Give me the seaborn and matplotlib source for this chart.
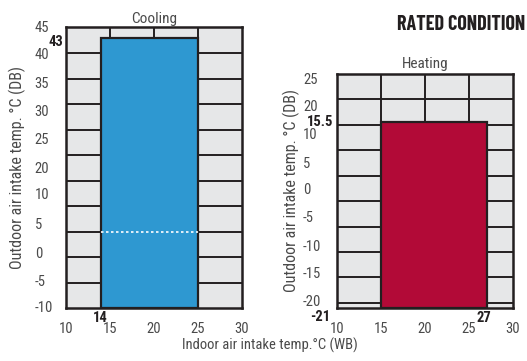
import numpy as np
import matplotlib
matplotlib.use("Agg")
import matplotlib.pyplot as plt
import seaborn as sns

# operating ranges (x = indoor WB, y = outdoor DB)
cool_x = [14, 25]
cool_y = [-10, 43]
cool_dash = 5
heat_x = [15, 27]
heat_y = [-21, 15.5]

# axis limits
cool_xlim = [10, 30]
cool_ylim = [-10, 45]
heat_xlim = [10, 30]
heat_ylim = [-21, 25]

# grid values
x_grid = [15, 20, 25]
cool_ygrid = [40, 35, 30, 25, 20, 15, 10, 5, 0, -5]
heat_ygrid = [20, 15, 10, 5, 0, -5, -10, -15, -20]

# tick labels as printed (positions)
x_ticks = [10, 15, 20, 25, 30]
cool_ylabels = ["45", "40", "35", "30", "25", "20", "10", "5", "0", "-5", "-10"]
cool_ypos = [45.2, 39.9, 34.2, 28.7, 23.3, 17.6, 12.5, 6.6, 1.0, -4.5, -9.8]
heat_ylabels = ["25", "20", "10", "5", "0", "-5", "-10", "-15", "-20"]
heat_ypos = [24.2, 18.9, 13.4, 7.7, 2.4, -3.1, -8.8, -14.1, -19.6]

sns.set_theme(style="white")
plt.rcParams['font.family'] = ['Roboto Condensed', 'DejaVu Sans']

BG = "#e6e7e8"
LINE = "#231f20"
BLUE = "#2e98d1"
RED = "#b20a37"
TXT = "#4a4a4a"

fig = plt.figure(figsize=(5.27, 3.61), dpi=100)
ax1 = fig.add_axes([66/527, 53/361, 176/527, 281/361])
ax2 = fig.add_axes([337/527, 53/361, 176/527, 234/361])


def panel(ax, xlim, ylim, ygrid, bx, by, color, ypos, ylabels, ypad):
    ax.set_facecolor(BG)
    ax.set_xlim(xlim)
    ax.set_ylim(ylim)
    for g in ygrid:
        ax.axhline(g, color=LINE, lw=1.4, zorder=1)
    for g in x_grid:
        ax.axvline(g, color=LINE, lw=1.4, zorder=1)
    ax.bar(bx[0], by[1] - by[0], bottom=by[0], width=bx[1] - bx[0],
           align="edge", color=color, edgecolor=LINE, linewidth=1.6, zorder=2)
    for s in ax.spines.values():
        s.set_color(LINE)
        s.set_linewidth(1.8)
        s.set_zorder(3)
    ax.set_xticks(x_ticks)
    ax.set_xticklabels([str(t) for t in x_ticks])
    ax.set_yticks(ypos)
    ax.set_yticklabels(ylabels, ha="left")
    ax.tick_params(axis="x", length=0, pad=10, labelsize=10.5, labelcolor=TXT)
    ax.tick_params(axis="y", length=0, pad=ypad, labelsize=10.5, labelcolor=TXT)


panel(ax1, cool_xlim, cool_ylim, cool_ygrid, cool_x, cool_y, BLUE,
      cool_ypos, cool_ylabels, 22.5)
panel(ax2, heat_xlim, heat_ylim, heat_ygrid, heat_x, heat_y, RED,
      heat_ypos, heat_ylabels, 24.5)

ax1.hlines(cool_dash, cool_x[0], cool_x[1], color="white", lw=1.2,
           linestyles=(0, (1.5, 1.5)), zorder=4)

ax1.set_title("Cooling", fontsize=11, color=TXT, pad=3)
ax2.set_title("Heating", fontsize=11, color=TXT, pad=4)

ax1.set_ylabel("Outdoor air intake temp. °C (DB)", fontsize=11.5, color=TXT, labelpad=6)
ax2.set_ylabel("Outdoor air intake temp. °C (DB)", fontsize=11.5, color=TXT, labelpad=2)

# bold limit annotations
bold = dict(fontsize=10.5, fontweight="bold", color=LINE)
ax1.annotate(str(cool_y[1]), (cool_xlim[0], cool_y[1]), xytext=(-2, -3),
             textcoords="offset points", ha="right", va="center", **bold)
ax1.annotate(str(cool_x[0]), (cool_x[0], cool_ylim[0]), xytext=(-1, -7),
             textcoords="offset points", ha="center", va="center", **bold)
ax2.annotate(str(heat_y[1]), (heat_xlim[0], heat_y[1]), xytext=(-3, 0),
             textcoords="offset points", ha="right", va="center", **bold)
ax2.annotate(str(heat_y[0]), (heat_xlim[0], heat_y[0]), xytext=(-5, -6.5),
             textcoords="offset points", ha="right", va="center", **bold)
ax2.annotate(str(heat_x[1]), (heat_x[1], heat_ylim[0]), xytext=(-2, -7),
             textcoords="offset points", ha="center", va="center", **bold)

fig.text(525/527, 1 - 25/361, "RATED CONDITION", fontsize=14.5, fontweight="bold",
         family="Barlow Condensed", color=LINE, ha="right", va="center")
fig.text(270/527, 1 - 345/361, "Indoor air intake temp.°C (WB)", fontsize=10.5,
         color=TXT, ha="center", va="center")

fig.savefig("out.png", dpi=100)
